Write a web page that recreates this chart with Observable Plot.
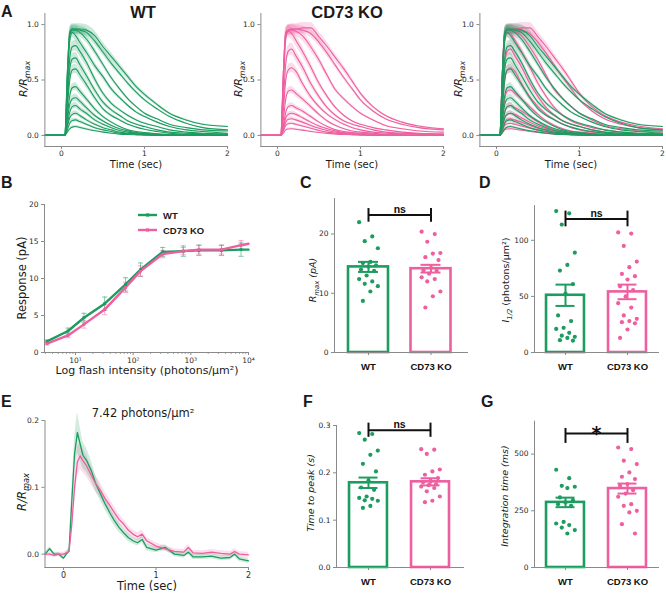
<!DOCTYPE html>
<html><head><meta charset="utf-8">
<script src="https://cdn.jsdelivr.net/npm/d3@7"></script>
<script src="https://cdn.jsdelivr.net/npm/@observablehq/plot@0.6"></script>
<style>
body{margin:0;background:#fff;}
#fig{position:relative;width:666px;height:594px;overflow:hidden;background:#fff;}
</style></head><body><div id="fig"></div>
<script>
// ---------------- DATA ----------------
const groups = ["WT", "CD73 KO"];

// Panel A: normalized flash responses (R/Rmax) sampled at tA (sec)
const tA = [-0.2,-0.1,0,0.04,0.07,0.1,0.13,0.17,0.22,0.3,0.4,0.5,0.6,0.7,0.8,0.9,1.0,1.15,1.3,1.5,1.7,2.0];
const wtTraces = [
 [0,0,0,0,0.03,0.06,0.075,0.08,0.072,0.058,0.042,0.03,0.02,0.012,0.008,0.005,0.003,0,0,0,0,0],
 [0,0,0,0,0.05,0.11,0.135,0.14,0.125,0.1,0.07,0.05,0.035,0.02,0.015,0.01,0.005,0,0,0,0,0],
 [0,0,0,0,0.08,0.16,0.19,0.2,0.18,0.14,0.1,0.07,0.05,0.03,0.02,0.015,0.01,0.005,0,0,0,0],
 [0,0,0,0,0.1,0.21,0.26,0.27,0.24,0.2,0.14,0.1,0.07,0.045,0.03,0.02,0.015,0.01,0.005,0,0,0],
 [0,0,0,0,0.14,0.28,0.33,0.34,0.31,0.25,0.18,0.13,0.09,0.06,0.04,0.025,0.02,0.01,0.005,0.005,0,0],
 [0,0,0,0,0.18,0.36,0.43,0.44,0.4,0.33,0.24,0.17,0.12,0.08,0.05,0.035,0.025,0.015,0.01,0.005,0.005,0],
 [0,0,0,0,0.25,0.5,0.59,0.6,0.55,0.46,0.34,0.24,0.18,0.14,0.1,0.075,0.055,0.035,0.02,0.012,0.01,0.005],
 [0,0,0,0,0.3,0.6,0.69,0.7,0.64,0.54,0.41,0.3,0.23,0.18,0.13,0.1,0.08,0.05,0.03,0.02,0.015,0.01],
 [0,0,0,0,0.35,0.7,0.8,0.81,0.76,0.66,0.51,0.38,0.29,0.23,0.18,0.14,0.11,0.08,0.05,0.03,0.02,0.015],
 [0,0,0,0,0.45,0.85,0.93,0.9,0.84,0.75,0.63,0.53,0.42,0.34,0.27,0.21,0.17,0.12,0.08,0.05,0.035,0.02],
 [0,0,0,0,0.5,0.9,0.95,0.95,0.93,0.87,0.76,0.64,0.52,0.42,0.33,0.26,0.2,0.15,0.1,0.07,0.05,0.04],
 [0,0,0,0,0.55,0.93,0.96,0.96,0.95,0.93,0.85,0.75,0.65,0.56,0.47,0.39,0.32,0.24,0.17,0.11,0.07,0.05],
 [0,0,0,0,0.55,0.93,0.96,0.96,0.96,0.95,0.9,0.8,0.71,0.62,0.53,0.44,0.37,0.28,0.2,0.14,0.1,0.08]
];
const wtRelSem = [0.15,0.13,0.11,0.1,0.09,0.08,0.07,0.07,0.06,0.05,0.04,0.04,0.05];
const koTraces = [
 [0,0,0,0,0.02,0.05,0.058,0.06,0.056,0.048,0.036,0.026,0.018,0.012,0.008,0.005,0.003,0,0,0,0,0],
 [0,0,0,0,0.04,0.09,0.105,0.11,0.1,0.085,0.065,0.045,0.03,0.02,0.015,0.01,0.005,0,0,0,0,0],
 [0,0,0,0,0.05,0.12,0.145,0.15,0.14,0.12,0.09,0.065,0.045,0.03,0.02,0.015,0.01,0.005,0,0,0,0],
 [0,0,0,0,0.07,0.16,0.19,0.2,0.19,0.16,0.12,0.085,0.06,0.04,0.025,0.02,0.015,0.01,0.005,0,0,0],
 [0,0,0,0,0.09,0.21,0.26,0.27,0.25,0.22,0.17,0.12,0.08,0.05,0.035,0.025,0.02,0.01,0.005,0,0,0],
 [0,0,0,0,0.14,0.33,0.4,0.41,0.38,0.33,0.26,0.19,0.13,0.09,0.06,0.04,0.03,0.02,0.01,0.005,0,0],
 [0,0,0,0,0.22,0.5,0.59,0.61,0.58,0.47,0.35,0.26,0.19,0.14,0.1,0.07,0.05,0.03,0.02,0.015,0.01,0.005],
 [0,0,0,0,0.3,0.65,0.76,0.78,0.72,0.62,0.47,0.35,0.25,0.18,0.13,0.1,0.08,0.05,0.03,0.02,0.015,0.01],
 [0,0,0,0,0.45,0.87,0.94,0.92,0.86,0.76,0.62,0.47,0.35,0.25,0.18,0.13,0.1,0.07,0.05,0.03,0.02,0.015],
 [0,0,0,0,0.5,0.9,0.95,0.95,0.94,0.9,0.8,0.68,0.54,0.41,0.33,0.26,0.2,0.14,0.09,0.06,0.04,0.03],
 [0,0,0,0,0.55,0.93,0.95,0.96,0.96,0.95,0.92,0.84,0.74,0.63,0.52,0.42,0.32,0.22,0.15,0.1,0.07,0.05],
 [0,0,0,0,0.55,0.93,0.95,0.96,0.96,0.97,0.97,0.89,0.8,0.7,0.6,0.49,0.38,0.26,0.18,0.12,0.085,0.06]
];
const koRelSem = [0.15,0.13,0.12,0.1,0.09,0.08,0.07,0.07,0.06,0.05,0.04,0.05];

// Panel B: intensity-response
const flash = [3.2, 7.42, 14, 32, 74, 134, 325, 740, 1380, 3400, 7420, 10000];
const wtResp = [1.5, 2.9, 4.7, 6.6, 9.2, 11.2, 13.6, 13.7, 13.8, 13.8, 13.9, 13.9];
const wtRespSem = [0.2, 0.4, 0.6, 0.9, 0.9, 0.9, 0.6, 0.7, 0.7, 0.7, 0.9, null];
const koResp = [1.2, 2.3, 3.8, 5.8, 8.8, 11.0, 13.3, 13.7, 13.9, 13.9, 14.5, 14.7];
const koRespSem = [0.2, 0.3, 0.5, 0.7, 0.7, 0.7, 0.5, 0.5, 0.6, 0.6, 0.6, null];

// Panel C: Rmax (pA)
const rmaxWT = [22.0,19.6,18.8,17.6,15.3,15.1,14.7,14.5,14.0,13.8,13.0,12.4,12.0,11.6,11.2,10.3,8.7];
const rmaxKO = [20.4,20.0,18.7,16.8,16.7,16.1,15.6,14.3,13.9,13.8,13.3,12.7,12.4,12.0,10.3,9.5,7.6];
const rmaxMean = [14.45, 14.15];
const rmaxSem = [0.85, 0.65];
const rmaxSig = {y: 23.2, lo: 22.0, hi: 24.3, label: "ns"};

// Panel D: I1/2 (photons/µm²)
const ihalfWT = [126,124,114,89,78,73,61,52.5,33,28,22,21,17.5,15,14,13,11,10.5];
const ihalfKO = [107,106,95,81,76,70,68,65,59,55.5,50,44,40,33,30,28,27,26,20.5,13];
const ihalfMean = [51, 54];
const ihalfSem = [9.5, 6.5];
const ihalfSig = {y: 119, lo: 112, hi: 126, label: "ns"};

// Panel E: dim flash responses at 7.42 photons/µm²
const tE = [-0.2,-0.15,-0.1,-0.05,0,0.03,0.06,0.09,0.12,0.15,0.18,0.21,0.25,0.3,0.35,0.4,0.45,0.5,0.55,0.6,0.65,0.7,0.75,0.8,0.85,0.9,1.0,1.1,1.2,1.3,1.35,1.4,1.5,1.6,1.7,1.8,1.85,1.9,2.0];
const eWT = [0,0.008,0,0,-0.006,0,0.005,0.08,0.15,0.182,0.165,0.148,0.14,0.125,0.105,0.09,0.075,0.062,0.05,0.04,0.032,0.025,0.02,0.017,0.022,0.01,0.006,0.01,0,-0.002,0.003,-0.004,-0.004,-0.003,-0.006,-0.005,0,-0.007,-0.01];
const eKO = [0,0,-0.002,0,0,0.002,0.004,0.045,0.1,0.138,0.147,0.14,0.132,0.118,0.105,0.095,0.083,0.073,0.062,0.052,0.045,0.036,0.03,0.026,0.03,0.02,0.012,0.008,0.004,0.003,0.01,0.002,0.001,0.003,0.001,0,0.004,0,-0.001];
const eWTsem = [0.003,0.003,0.003,0.003,0.003,0.003,0.004,0.015,0.025,0.03,0.025,0.02,0.018,0.015,0.012,0.01,0.009,0.008,0.008,0.007,0.006,0.006,0.005,0.005,0.005,0.005,0.004,0.004,0.004,0.004,0.004,0.004,0.004,0.004,0.004,0.004,0.004,0.004,0.004];
const eKOsem = [0.003,0.003,0.003,0.003,0.003,0.003,0.004,0.012,0.02,0.022,0.02,0.018,0.016,0.014,0.012,0.011,0.01,0.009,0.009,0.008,0.007,0.007,0.006,0.006,0.006,0.005,0.005,0.004,0.004,0.004,0.004,0.004,0.004,0.004,0.004,0.004,0.004,0.004,0.004];

// Panel F: time to peak (s)
const tpeakWT = [0.284,0.282,0.27,0.247,0.238,0.219,0.203,0.184,0.169,0.164,0.15,0.147,0.145,0.142,0.141,0.13,0.126];
const tpeakKO = [0.25,0.249,0.24,0.207,0.203,0.196,0.189,0.183,0.18,0.176,0.174,0.171,0.168,0.161,0.15,0.141,0.138];
const tpeakMean = [0.179, 0.181];
const tpeakSem = [0.011, 0.0075];
const tpeakSig = {y: 0.29, lo: 0.275, hi: 0.305, label: "ns"};

// Panel G: integration time (ms)
const tintWT = [431,394,360,356,350,309,297,287,279,272,201,194,187,176,165,150];
const tintKO = [529,522,471,456,419,400,390,368,360,341,326,312,279,272,250,243,191,150];
const tintMean = [287, 348];
const tintSem = [21, 22];
const tintSig = {y: 591, lo: 547, hi: 613, label: "*"};

// ---------------- STYLE ----------------
const GREEN = "#1d9c5f", PINK = "#ee5fa0", AXIS = "#8a8a8a", INK = "#2a2a2a";
const colorScale = {domain: groups, range: [GREEN, PINK]};
const baseStyle = {fontFamily: "DejaVu Sans", fontSize: "7.5px", color: INK, background: "transparent", overflow: "visible"};
const fig = document.getElementById("fig");
function place(el, left, top) {
  el.style.position = "absolute"; el.style.left = left + "px"; el.style.top = top + "px";
  fig.appendChild(el);
}
const spines = () => [Plot.frame({anchor: "left", stroke: AXIS}), Plot.frame({anchor: "bottom", stroke: AXIS})];

// ---------------- PANEL A ----------------
function traceRows(traces, rel, g) {
  const rows = [];
  traces.forEach((vals, k) => vals.forEach((v, i) => rows.push({t: tA[i], v, lo: v - v * rel[k], hi: v + v * rel[k], k: g + k, g})));
  return rows;
}
const wtRows = traceRows(wtTraces, wtRelSem, "WT");
const koRows = traceRows(koTraces, koRelSem, "CD73 KO");

function panelA(sets, width, mr) {
  const marks = [];
  sets.forEach(s => marks.push(Plot.areaY(s, {x: "t", y1: "lo", y2: "hi", z: "k", fill: "g", fillOpacity: 0.22, curve: "monotone-x"})));
  sets.forEach(s => marks.push(Plot.lineY(s, {x: "t", y: "v", z: "k", stroke: "g", strokeWidth: 1.1, curve: "monotone-x"})));
  return Plot.plot({
    width, height: 160, marginLeft: 44.4, marginRight: mr, marginTop: 13, marginBottom: 14,
    x: {domain: [-0.2, 2]}, y: {domain: [-0.1, 1.1]}, color: colorScale, style: baseStyle,
    marks: [
      ...marks, ...spines(),
      Plot.axisX({ticks: [0, 1, 2], tickFormat: d => String(d), tickSize: 3, tickPadding: 1.5, stroke: AXIS, label: null}),
      Plot.axisY({ticks: [0, 0.5, 1], tickFormat: ".1f", tickSize: 3, tickPadding: 3, stroke: AXIS, label: null})
    ]
  });
}
place(panelA([wtRows], 232, 5), 0, 0);
place(panelA([koRows], 232, 5), 216, 0);
place(panelA([koRows, wtRows], 231, 4), 435, 0);

// ---------------- PANEL B ----------------
const bRows = [
  ...flash.map((f, i) => ({f, r: wtResp[i], s: wtRespSem[i], g: "WT"})),
  ...flash.map((f, i) => ({f, r: koResp[i], s: koRespSem[i], g: "CD73 KO"}))
];
const bErr = bRows.filter(d => d.s != null);
const hbar = {draw(ctx, size) { const r = Math.sqrt(size / Math.PI); ctx.moveTo(-r, 0); ctx.lineTo(r, 0); }};
const sup = {1: "¹", 2: "²", 3: "³", 4: "⁴"};
const minorTicks = d3.range(0, 4).flatMap(e => d3.range(2, 10).map(m => m * 10 ** e)).filter(v => v >= 2.9 && v <= 10000);
place(Plot.plot({
  width: 260, height: 180, marginLeft: 44, marginRight: 12, marginTop: 14, marginBottom: 18,
  x: {type: "log", domain: [2.9, 10000]}, y: {domain: [0, 20]}, color: colorScale, style: baseStyle,
  marks: [
    Plot.ruleX(bErr, {x: "f", y1: d => d.r - d.s, y2: d => d.r + d.s, stroke: "g", strokeOpacity: 0.55, strokeWidth: 1}),
    Plot.dot(bErr, {x: "f", y: d => d.r - d.s, symbol: hbar, r: 2.6, stroke: "g", strokeOpacity: 0.55, strokeWidth: 1}),
    Plot.dot(bErr, {x: "f", y: d => d.r + d.s, symbol: hbar, r: 2.6, stroke: "g", strokeOpacity: 0.55, strokeWidth: 1}),
    Plot.lineY(bRows, {x: "f", y: "r", z: "g", stroke: "g", strokeWidth: 2.4}),
    Plot.dot(bErr, {x: "f", y: "r", fill: "g", symbol: "square", r: 1.6}),
    ...spines(),
    Plot.axisX({ticks: minorTicks, tickSize: 1.8, tickFormat: () => "", stroke: AXIS, label: null}),
    Plot.axisX({ticks: [10, 100, 1000, 10000], tickFormat: d => "10" + sup[Math.round(Math.log10(d))], tickSize: 3, tickPadding: 2, stroke: AXIS, label: null}),
    Plot.axisY({ticks: [0, 5, 10, 15, 20], tickSize: 3, tickPadding: 3, stroke: AXIS, label: null})
  ]
}), 0, 190);

// ---------------- BAR PANELS ----------------
const jit = j => (((j * 7) % 11) - 5) / 5 * 0.15;
function barPanel(c) {
  const dots = [...c.wt.map((v, j) => ({i: 0, v, j, g: groups[0]})), ...c.ko.map((v, j) => ({i: 1, v, j, g: groups[1]}))];
  const bars = groups.map((g, i) => ({g, i, m: c.mean[i], s: c.sem[i]}));
  const hw = c.hw;
  return Plot.plot({
    width: c.width, height: c.height, marginLeft: c.ml, marginRight: c.mr, marginTop: c.mt, marginBottom: c.mb,
    x: {domain: c.xd}, y: {domain: c.yd}, color: colorScale, style: baseStyle,
    marks: [
      Plot.rect(bars, {x1: d => d.i - hw, x2: d => d.i + hw, y1: 0, y2: "m", fill: "white", stroke: "g", strokeWidth: 2.6}),
      Plot.dot(dots, {x: d => d.i + jit(d.j), y: "v", fill: "g", r: 2.1}),
      Plot.ruleX(bars, {x: "i", y1: d => d.m - d.s, y2: d => d.m + d.s, stroke: "g", strokeWidth: 2}),
      Plot.ruleY(bars, {x1: d => d.i - hw / 2, x2: d => d.i + hw / 2, y: d => d.m + d.s, stroke: "g", strokeWidth: 2}),
      Plot.ruleY(bars, {x1: d => d.i - hw / 2, x2: d => d.i + hw / 2, y: d => d.m - d.s, stroke: "g", strokeWidth: 2}),
      Plot.link([c.sig], {x1: 0, x2: 1, y1: "y", y2: "y", stroke: "#111", strokeWidth: 2}),
      Plot.ruleX([0, 1], {x: d => d, y1: c.sig.lo, y2: c.sig.hi, stroke: "#111", strokeWidth: 2}),
      Plot.text([c.sig], {x: 0.5, y: "y", text: "label", lineAnchor: c.star ? "middle" : "bottom", dy: c.star ? 0 : -2,
        fontWeight: "bold", fontSize: c.star ? 19 : 10.5, fontFamily: c.star ? "DejaVu Sans" : "Liberation Sans", fill: "#111"}),
      ...spines(),
      Plot.axisY({ticks: c.ticks, tickFormat: c.fmt, tickSize: 3, tickPadding: 3, stroke: AXIS, label: null}),
      Plot.axisX({ticks: [0, 1], tickFormat: i => groups[i], tickSize: 3, tickPadding: 7.5, fontSize: 9.5, fontWeight: "bold",
        fontFamily: "Liberation Sans", fill: "#111", stroke: AXIS, label: null})
    ]
  });
}
place(barPanel({width: 190, height: 180, ml: 44, mr: 13, mt: 8, mb: 18, xd: [-0.544, 1.584], yd: [0, 26], hw: 0.32,
  wt: rmaxWT, ko: rmaxKO, mean: rmaxMean, sem: rmaxSem, sig: rmaxSig, ticks: [0, 10, 20], fmt: d => String(d)}), 290, 190);
place(barPanel({width: 188, height: 180, ml: 56, mr: 8, mt: 15, mb: 18, xd: [-0.5, 1.5], yd: [0, 131], hw: 0.306,
  wt: ihalfWT, ko: ihalfKO, mean: ihalfMean, sem: ihalfSem, sig: ihalfSig, ticks: [0, 50, 100], fmt: d => String(d)}), 478, 190);
place(barPanel({width: 190, height: 190, ml: 46, mr: 17, mt: 35, mb: 13, xd: [-0.516, 1.532], yd: [0, 0.3], hw: 0.306,
  wt: tpeakWT, ko: tpeakKO, mean: tpeakMean, sem: tpeakSem, sig: tpeakSig, ticks: [0, 0.1, 0.2, 0.3], fmt: ".1f"}), 290, 390);
place(barPanel({width: 188, height: 190, ml: 56, mr: 8, mt: 30.7, mb: 13, xd: [-0.5, 1.5], yd: [0, 645], hw: 0.306, star: true,
  wt: tintWT, ko: tintKO, mean: tintMean, sem: tintSem, sig: tintSig, ticks: [0, 250, 500], fmt: d => String(d)}), 478, 390);

// ---------------- PANEL E ----------------
const eRows = [
  ...tE.map((t, i) => ({t, v: eKO[i], lo: eKO[i] - eKOsem[i], hi: eKO[i] + eKOsem[i], g: "CD73 KO"})),
  ...tE.map((t, i) => ({t, v: eWT[i], lo: eWT[i] - eWTsem[i], hi: eWT[i] + eWTsem[i], g: "WT"}))
];
place(Plot.plot({
  width: 260, height: 190, marginLeft: 44.5, marginRight: 12, marginTop: 30, marginBottom: 13,
  x: {domain: [-0.2, 2]}, y: {domain: [-0.02, 0.2]}, color: colorScale, style: baseStyle,
  marks: [
    Plot.areaY(eRows, {x: "t", y1: "lo", y2: "hi", z: "g", fill: "g", fillOpacity: 0.2}),
    Plot.lineY(eRows.filter(d => d.g === "WT"), {x: "t", y: "v", stroke: GREEN, strokeWidth: 1.3}),
    Plot.lineY(eRows.filter(d => d.g !== "WT"), {x: "t", y: "v", stroke: PINK, strokeWidth: 1.3}),
    ...spines(),
    Plot.axisX({ticks: [0, 1, 2], tickFormat: d => String(d), tickSize: 3, tickPadding: 2, fontSize: 8, stroke: AXIS, label: null}),
    Plot.axisY({ticks: [0, 0.1, 0.2], tickFormat: ".1f", tickSize: 3, tickPadding: 3, stroke: AXIS, label: null})
  ]
}), 0, 390);

// ---------------- TEXT OVERLAY ----------------
const ov = d3.select(fig).append("svg").attr("width", 666).attr("height", 594)
  .style("position", "absolute").style("left", 0).style("top", 0).style("pointer-events", "none");
function label(x, y, parts, {size = 11, rotate = false, family = "DejaVu Sans", weight = "normal", anchor = "middle", fill = "#1a1a1a"} = {}) {
  const t = ov.append("text").attr("transform", `translate(${x},${y})` + (rotate ? " rotate(-90)" : ""))
    .attr("text-anchor", anchor).attr("font-family", family).attr("font-size", size).attr("font-weight", weight).attr("fill", fill);
  let shift = 0;
  parts.forEach((p, i) => {
    if (typeof p === "string") p = {t: p};
    const s = t.append("tspan").text(p.t);
    const target = p.sub ? size * 0.3 : p.sup ? -size * 0.4 : 0;
    const dy = target - shift + (i === 0 && rotate ? size * 0.35 : 0);
    shift = target;
    if (dy) s.attr("dy", dy);
    if (p.sub || p.sup) s.attr("font-size", size * 0.72);
    if (p.it) s.attr("font-style", "italic");
  });
}
// panel letters
[["A", 1, 17], ["B", 1, 188], ["C", 300, 188], ["D", 479, 188], ["E", 1, 407], ["F", 303, 407], ["G", 481, 407]]
  .forEach(([s, x, y]) => label(x, y, [s], {size: 16, family: "Liberation Sans", weight: "bold", anchor: "start"}));
// A titles
label(143, 18, ["WT"], {size: 16.5, family: "Liberation Sans", weight: "bold"});
label(347, 18, ["CD73 KO"], {size: 16.5, family: "Liberation Sans", weight: "bold"});
// A axis labels
[[136, 23], [352, 238], [571, 458]].forEach(([cx, ly]) => {
  label(cx, 168, ["Time (sec)"], {size: 10});
  label(ly, 79, [{t: "R/R", it: true}, {t: "max", it: true, sub: true}], {size: 11, rotate: true});
});
// B
label(22, 278, ["Response (pA)"], {size: 11.5, rotate: true});
label(147, 374, ["Log flash intensity (photons/µm²)"], {size: 11});
[[GREEN, 215, "WT"], [PINK, 230, "CD73 KO"]].forEach(([c, y, s]) => {
  ov.append("line").attr("x1", 138).attr("x2", 157).attr("y1", y).attr("y2", y).attr("stroke", c).attr("stroke-width", 2.4);
  ov.append("rect").attr("x", 146).attr("y", y - 1.6).attr("width", 3.2).attr("height", 3.2).attr("fill", c);
  label(163, y + 3.5, [s], {size: 9.5, family: "Liberation Sans", weight: "bold", anchor: "start"});
});
// C, D, F, G axis labels
label(313, 280, [{t: "R", it: true}, {t: "max", it: true, sub: true}, {t: " (pA)", it: true}], {size: 9.5, rotate: true});
label(506, 280, [{t: "I", it: true}, {t: "1/2", it: true, sub: true}, {t: " (photons/µm²)"}], {size: 9.5, rotate: true});
label(311, 493, [{t: "Time to peak (s)", it: true}], {size: 9.5, rotate: true});
label(505, 496, [{t: "Integration time (ms)", it: true}], {size: 9.5, rotate: true});
// E
label(143, 417, ["7.42 photons/µm²"], {size: 11.5});
label(22, 492, [{t: "R/R", it: true}, {t: "max", it: true, sub: true}], {size: 11.5, rotate: true});
label(147, 590, ["Time (sec)"], {size: 11.5});
</script></body></html>
